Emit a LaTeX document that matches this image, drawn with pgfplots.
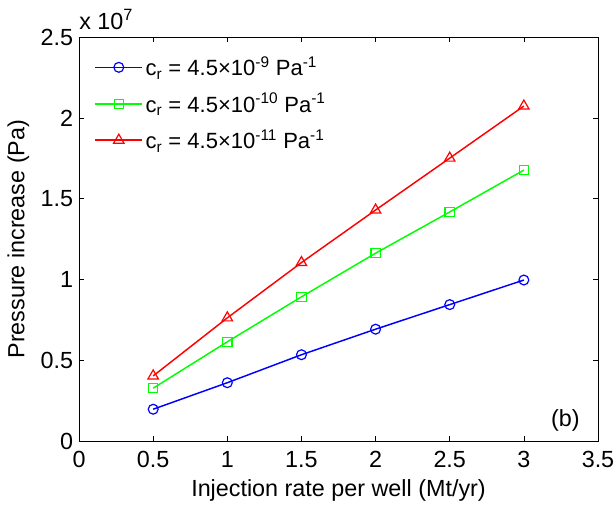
\documentclass[border=0pt]{standalone}
\usepackage{fontspec}
\setmainfont{Liberation Sans}
\usepackage{pgfplots}
\pgfplotsset{compat=1.18}
\definecolor{mblue}{RGB}{0,0,255}
\definecolor{mgreen}{RGB}{0,255,0}
\definecolor{mred}{RGB}{255,0,0}
\begin{document}
\begin{tikzpicture}
\begin{axis}[
  scale only axis,
  width=389pt, height=303pt,
  xmin=0, xmax=3.5, ymin=0, ymax=2.5,
  xtick={0,0.5,...,3.5}, ytick={0,0.5,...,2.5},
  xticklabels={0,0.5,1,1.5,2,2.5,3,3.5},
  yticklabels={0,0.5,1,1.5,2,2.5},
  tick align=inside, major tick length=4pt,
  tick style={black, line width=0.5pt},
  axis line style={line width=0.6pt},
  font=\fontsize{17.5}{20}\selectfont,
  tick label style={font=\fontsize{17.5}{20}\selectfont},
  xticklabel style={yshift=-4pt},
  yticklabel style={xshift=-1pt},
  xlabel={Injection rate per well (Mt/yr)},
  ylabel={Pressure increase (Pa)},
  xlabel style={at={(axis description cs:0.5,-0.121)}, anchor=center},
  ylabel style={at={(axis description cs:-0.117,0.5)}, anchor=center},
  legend style={draw=none, fill=none, at={(axis description cs:0.022,0.965)}, anchor=north west,
    font=\fontsize{16.5}{19}\selectfont, row sep=7.5pt},
  legend cell align=left,
  legend image code/.code={
    \draw[#1, line width=1.1pt, mark repeat=2, mark phase=2] plot coordinates {(0pt,0pt) (17.5pt,0pt) (35pt,0pt)};},
  clip=false,
]
\addplot[mblue, line width=1.1pt, mark=o, mark size=3.7pt, mark options={solid, line width=0.9pt}]
  coordinates {(0.5,0.198) (1,0.362) (1.5,0.535) (2,0.693) (2.5,0.845) (3,0.997)};
\addlegendentry{c\textsubscript{r} = 4.5×10\textsuperscript{-9} Pa\textsuperscript{-1}}
\addplot[mgreen, line width=1.1pt, mark=square, mark size=3.5pt, mark options={solid, line width=0.9pt}]
  coordinates {(0.5,0.328) (1,0.615) (1.5,0.893) (2,1.163) (2.5,1.418) (3,1.677)};
\addlegendentry{c\textsubscript{r} = 4.5×10\textsuperscript{-10} Pa\textsuperscript{-1}}
\addplot[mred, line width=1.1pt, mark=triangle, mark size=4.5pt, mark options={solid, line width=0.9pt}]
  coordinates {(0.5,0.404) (1,0.763) (1.5,1.105) (2,1.430) (2.5,1.751) (3,2.073)};
\addlegendentry{c\textsubscript{r} = 4.5×10\textsuperscript{-11} Pa\textsuperscript{-1}}
\node[anchor=base west, inner sep=0pt] at ([yshift=6pt]rel axis cs:0,1) {x 10\textsuperscript{7}};
\node[anchor=center] at (axis cs:3.28,0.13) {(b)};
\coordinate (ll) at (rel axis cs:0,0);
\coordinate (ur) at (rel axis cs:1,1);
\end{axis}
\pgfresetboundingbox
\path[use as bounding box] ([xshift=-59.25pt,yshift=-48.75pt]ll) rectangle ([xshift=12.75pt,yshift=27.75pt]ur);
\end{tikzpicture}
\end{document}
